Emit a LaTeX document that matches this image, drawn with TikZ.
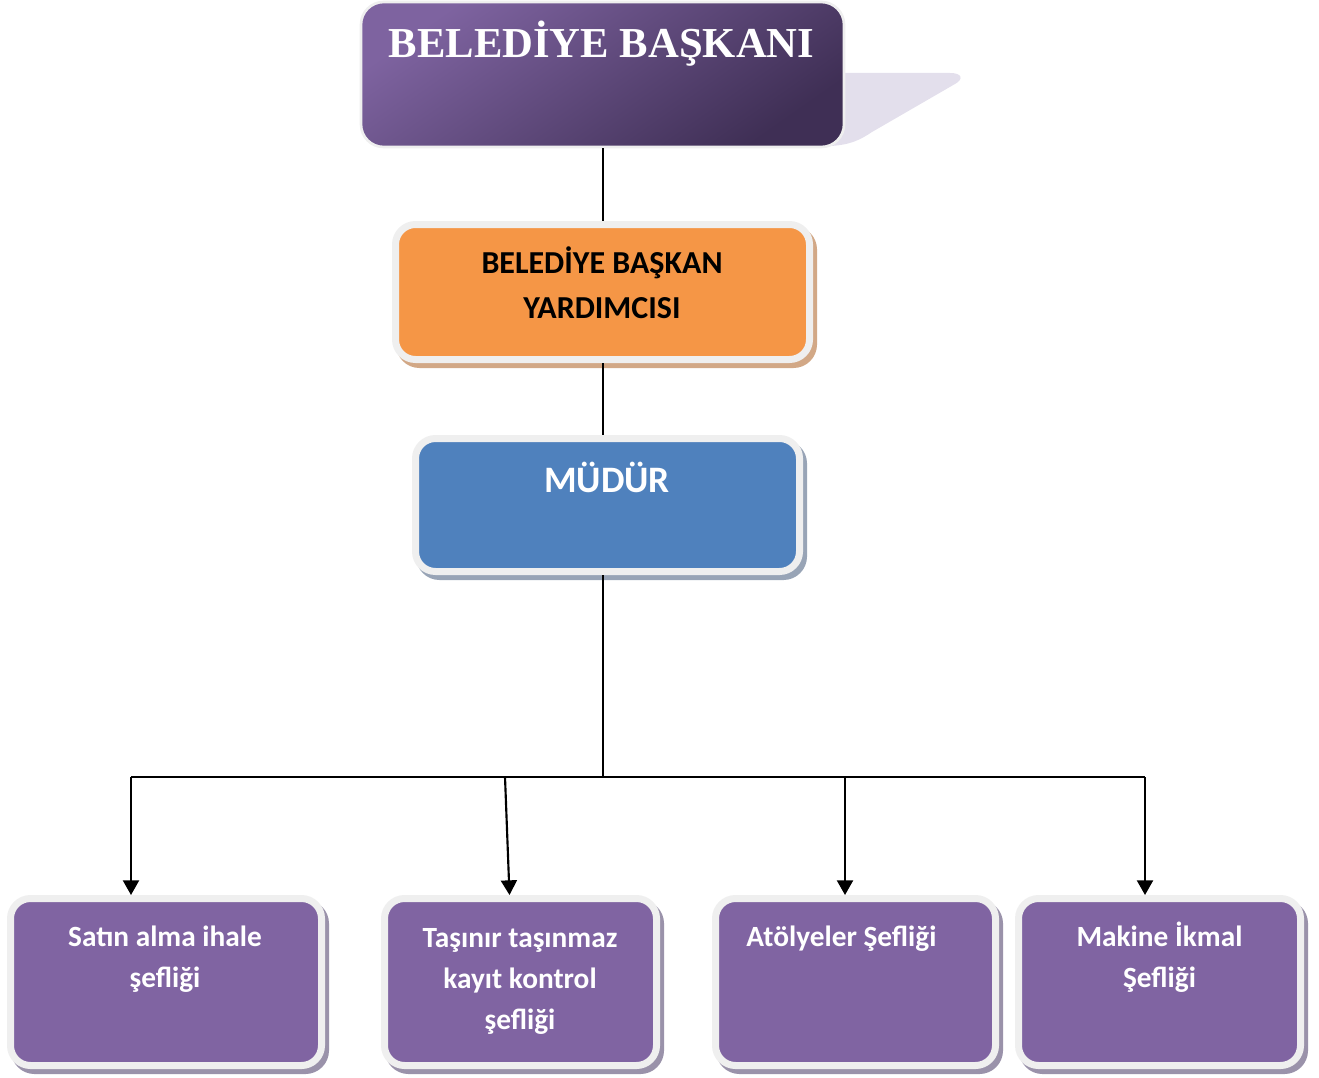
\documentclass[tikz,border=0pt]{standalone}
\usepackage{fontspec}
\setmainfont{Carlito}
\newfontfamily\headserif{Liberation Serif}
\usetikzlibrary{fit,arrows.meta,calc}
\definecolor{rimc}{HTML}{EFEFEF}
\definecolor{purpc}{HTML}{8064A2}
\definecolor{purpsh}{HTML}{9A92AA}
\definecolor{orangec}{HTML}{F59646}
\definecolor{orangesh}{HTML}{D2A886}
\definecolor{bluec}{HTML}{4F81BD}
\definecolor{bluesh}{HTML}{98A4B6}
\definecolor{toplight}{HTML}{7E63A0}
\definecolor{topdark}{HTML}{3F2F55}
\definecolor{lavc}{HTML}{E3DFEC}
\tikzset{
  boxbase/.style={draw=rimc, line width=5.25pt, rounded corners=15pt, inner sep=0pt},
  shadowed/.style={preaction={draw=#1, fill=#1, line width=5.25pt, transform canvas={xshift=3pt,yshift=-3.75pt}}},
  purplebox/.style={boxbase, fill=purpc, shadowed=purpsh},
  orangebox/.style={boxbase, fill=orangec, shadowed=orangesh},
  bluebox/.style={boxbase, fill=bluec, shadowed=bluesh},
  headbox/.style={draw=rimc, line width=2pt, rounded corners=17pt, inner sep=0pt,
     shading=axis, top color=toplight, bottom color=topdark, shading angle=35},
  wtext/.style={text=white, inner sep=0pt, align=center, anchor=base,
     font=\fontsize{22}{30.75}\selectfont\bfseries},
  conn/.style={draw=black, line width=1.6pt},
  arr/.style={conn, -{Triangle[width=12pt,length=11pt]}},
}
\begin{document}
\begin{tikzpicture}[x=0.75pt,y=-0.75pt]
\useasboundingbox (0,0) rectangle (1319,1077);
% lavender shadow of head box
\fill[lavc] (800,73) -- (950,73) .. controls (962,73) and (964,79) .. (955,84) -- (872,132) .. controls (860,140) and (850,145) .. (830,146) -- (800,146) -- cycle;
% boxes
\node[headbox, fit={(361,2) (844,147)}] (bb) {};
\node[orangebox, fit={(395.5,224.5) (809.5,359.5)}] (by) {};
\node[bluebox, fit={(415.5,438.5) (799.5,571.5)}] (bm) {};
\node[purplebox, fit={(10.5,898.5) (321.5,1065.5)}] (b1) {};
\node[purplebox, fit={(384.5,898.5) (656.5,1065.5)}] (b2) {};
\node[purplebox, fit={(715.5,898.5) (995.5,1065.5)}] (b3) {};
\node[purplebox, fit={(1018.5,898.5) (1300.5,1065.5)}] (b4) {};
% texts (base anchor = baseline of last line)
\node[text=white, inner sep=0pt, anchor=base, font=\headserif\fontsize{32}{36}\selectfont\bfseries] (tbb) at (601.5,58) {BELEDİYE BAŞKANI};
\node[text=black, inner sep=0pt, align=center, anchor=base, font=\fontsize{24}{33.75}\selectfont\bfseries] (tby) at (602,318) {BELEDİYE BAŞKAN\\YARDIMCISI};
\node[text=white, inner sep=0pt, anchor=base, font=\fontsize{28}{34}\selectfont\bfseries] (tbm) at (607,492) {MÜDÜR};
\node[wtext] (tb1) at (165,987.5) {Satın alma ihale\\şefliği};
\node[wtext] (tb2) at (520,1029) {Taşınır taşınmaz\\kayıt kontrol\\şefliği};
\node[wtext] (tb3) at (841.5,946.5) {Atölyeler Şefliği};
\node[wtext] (tb4) at (1159.5,987.5) {Makine İkmal\\Şefliği};
% connectors
\coordinate (bus) at (603,777);
\coordinate (j1) at (131,777);
\coordinate (j2) at (505,777);
\coordinate (j3) at (845,777);
\coordinate (j4) at (1145,777);
\draw[conn] (bb.south -| bus) -- (by.north -| bus);
\draw[conn] (by.south -| bus) -- (bm.north -| bus);
\draw[conn] (bm.south -| bus) -- (bus);
\draw[conn] (j1) -- (j4);
\draw[arr] (j1) -- (j1 |- b1.north);
\draw[arr] (j2) -- ($(b2.north)+(-11,0)$);
\draw[arr] (j3) -- (j3 |- b3.north);
\draw[arr] (j4) -- (j4 |- b4.north);
\end{tikzpicture}
\end{document}
